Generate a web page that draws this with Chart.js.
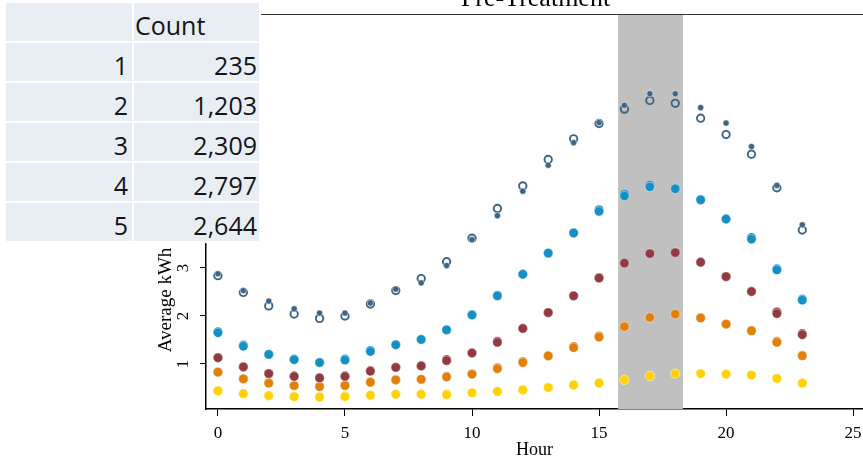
<!DOCTYPE html>
<html><head><meta charset="utf-8">
<script src="https://cdn.jsdelivr.net/npm/chart.js@4/dist/chart.umd.min.js"></script>
<style>
html,body{margin:0;padding:0;background:#fff;}
#wrap{position:relative;width:863px;height:461px;overflow:hidden;background:#fff;}
#c{position:absolute;left:0;top:0;}
#tbl{position:absolute;left:0;top:0;width:261px;height:243px;background:#fff;}
.cell{position:absolute;background:#e9edf4;font-family:'Open Sans',sans-serif;font-size:25px;color:#141414;box-sizing:border-box;height:38px;line-height:38px;padding-top:3px;white-space:nowrap;}
.c1{left:6px;width:126px;text-align:right;padding-right:4px;}
.c2{left:134px;width:125px;text-align:right;padding-right:2px;}
.hd{text-align:left;padding-left:1px;}
</style></head>
<body>
<div id="wrap">
<canvas id="c" width="863" height="461"></canvas>
<div id="tbl"></div>
</div>
<script>
// ---- data ----
const hours = [0,1,2,3,4,5,6,7,8,9,10,11,12,13,14,15,16,17,18,19,20,21,22,23];
const slateFilled  = [2.88,2.53,2.31,2.15,2.06,2.06,2.27,2.56,2.69,3.05,3.59,4.09,4.60,5.14,5.61,6.03,6.39,6.63,6.63,6.34,6.02,5.53,4.72,3.90];
const slateHollow  = [2.84,2.49,2.21,2.04,1.95,2.00,2.25,2.53,2.78,3.13,3.62,4.24,4.71,5.26,5.69,6.01,6.31,6.49,6.43,6.12,5.78,5.37,4.67,3.79];
const blueFilled   = [1.65,1.37,1.20,1.09,1.03,1.08,1.26,1.40,1.51,1.71,2.02,2.42,2.87,3.31,3.73,4.18,4.50,4.69,4.65,4.42,4.02,3.60,2.96,2.33];
const blueHollow   = [1.67,1.39,1.20,1.10,1.03,1.10,1.28,1.40,1.51,1.71,2.03,2.43,2.87,3.31,3.73,4.21,4.53,4.72,4.65,4.42,4.02,3.63,2.98,2.35];
const redFilled    = [1.13,0.94,0.80,0.74,0.71,0.74,0.85,0.93,0.96,1.07,1.23,1.45,1.74,2.07,2.42,2.79,3.10,3.30,3.32,3.12,2.82,2.51,2.05,1.61];
const redHollow    = [1.13,0.94,0.80,0.75,0.71,0.75,0.86,0.93,0.96,1.09,1.23,1.47,1.74,2.07,2.42,2.80,3.10,3.30,3.32,3.12,2.82,2.51,2.08,1.63];
const orangeFilled = [0.83,0.69,0.60,0.55,0.53,0.55,0.62,0.67,0.68,0.73,0.79,0.90,1.03,1.17,1.34,1.56,1.78,1.97,2.04,1.96,1.83,1.69,1.45,1.17];
const orangeHollow = [0.83,0.69,0.61,0.55,0.53,0.56,0.62,0.67,0.68,0.74,0.79,0.92,1.05,1.17,1.36,1.58,1.78,1.97,2.04,1.96,1.83,1.70,1.47,1.18];
const yellowFilled = [0.44,0.38,0.34,0.32,0.31,0.32,0.35,0.37,0.37,0.36,0.40,0.43,0.46,0.51,0.56,0.60,0.67,0.75,0.80,0.80,0.79,0.77,0.70,0.60];
const yellowHollow = [0.44,0.38,0.34,0.32,0.31,0.33,0.35,0.37,0.37,0.37,0.40,0.43,0.46,0.51,0.57,0.61,0.67,0.75,0.80,0.80,0.79,0.77,0.70,0.60];
const peakStart = 15.75, peakEnd = 18.3;
const xTickStep = 5, yTickStep = 1;
const tableHeader = "Count";
const tableGroups = ["1","2","3","4","5"];
const tableCounts = ["235","1,203","2,309","2,797","2,644"];
const chartTitle = "Pre-Treatment";
const xTitle = "Hour";
const yTitle = "Average kWh";

// ---- table ----
const tbl = document.getElementById('tbl');
const rowTops = [3,43,83,123,163,203];
function addCell(cls, top, text){
  const d = document.createElement('div');
  d.className = 'cell ' + cls; d.style.top = top + 'px'; d.textContent = text; tbl.appendChild(d);
}
addCell('c1', rowTops[0], '');
addCell('c2 hd', rowTops[0], tableHeader);
tableGroups.forEach((g,i)=>{ addCell('c1', rowTops[i+1], g); addCell('c2', rowTops[i+1], tableCounts[i]); });

// ---- chart ----
const colors = {slate:'#3d6485', blue:'#168fc4', red:'#923a41', orange:'#e27f08', yellow:'#ffd200'};
const pts = arr => hours.map((h,i)=>({x:h, y:arr[i]}));
function filled(arr, col, r){ return {data:pts(arr), backgroundColor:col, borderColor:'rgba(255,255,255,0.8)', borderWidth:0.6, pointRadius:r, order:1}; }
function hollow(arr, col){ return {data:pts(arr), backgroundColor:'rgba(0,0,0,0)', borderColor:col, borderWidth:1.9, pointRadius:3.7, order:5}; }

const serif = "'Liberation Serif','Times New Roman',serif";
const decor = {
  id:'decor',
  beforeDatasetsDraw(chart){
    const {ctx, chartArea:a, scales:{x}} = chart;
    const x0 = x.getPixelForValue(peakStart), x1 = x.getPixelForValue(peakEnd);
    ctx.save(); ctx.fillStyle = '#c0c0c0'; ctx.fillRect(x0, a.top, x1-x0, a.bottom-a.top); ctx.restore();
  },
  afterDraw(chart){
    const {ctx, chartArea:a, scales:{y}} = chart;
    ctx.save();
    ctx.strokeStyle = '#333'; ctx.lineWidth = 1.2;
    ctx.beginPath(); ctx.moveTo(a.left, a.top - 0.5); ctx.lineTo(a.right, a.top - 0.5); ctx.stroke();
    ctx.fillStyle = '#000';
    ctx.font = '26px ' + serif; ctx.textAlign = 'center'; ctx.textBaseline = 'alphabetic';
    ctx.fillText(chartTitle, (a.left + a.right)/2 + 1, 6);
    // y tick labels (vertical, Stata style) at the library's tick positions
    ctx.font = '17px ' + serif; ctx.textBaseline = 'middle';
    y.ticks.forEach(t => {
      const py = y.getPixelForValue(t.value);
      ctx.save(); ctx.translate(184, py); ctx.rotate(-Math.PI/2);
      ctx.fillText(String(t.value), 0, 0); ctx.restore();
    });
    ctx.translate(166, 300); ctx.rotate(-Math.PI/2);
    ctx.font = '19px ' + serif; ctx.textBaseline = 'middle';
    ctx.fillText(yTitle, 0, 0);
    ctx.restore();
  }
};

new Chart(document.getElementById('c'), {
  type:'scatter',
  data:{datasets:[
    filled(slateFilled, colors.slate, 3.1), hollow(slateHollow, colors.slate),
    filled(blueFilled, colors.blue, 4.7), hollow(blueHollow, colors.blue),
    filled(redFilled, colors.red, 4.7), hollow(redHollow, colors.red),
    filled(orangeFilled, colors.orange, 4.7), hollow(orangeHollow, colors.orange),
    filled(yellowFilled, colors.yellow, 4.7), hollow(yellowHollow, colors.yellow)
  ]},
  options:{
    responsive:false, animation:false, devicePixelRatio:1,
    layout:{autoPadding:false, padding:{top:15,left:0,right:0,bottom:0}},
    plugins:{legend:{display:false}, tooltip:{enabled:false}, title:{display:false}},
    scales:{
      x:{type:'linear', min:-0.47, max:25.39,
        ticks:{stepSize:xTickStep, includeBounds:false, color:'#000', font:{family:serif, size:17}, padding:7, maxRotation:0},
        grid:{drawOnChartArea:false, drawTicks:true, tickLength:7, color:'#000', lineWidth:1},
        border:{display:true, color:'#000', width:1.5},
        title:{display:true, text:xTitle, color:'#000', font:{family:serif, size:18}, padding:{top:0,bottom:0}},
        afterFit(s){ s.height = 52; s.paddingLeft = 0; s.paddingRight = 0; }
      },
      y:{type:'linear', min:0.0625, max:8.27,
        ticks:{stepSize:yTickStep, includeBounds:false, display:false},
        grid:{drawOnChartArea:false, drawTicks:true, tickLength:6, color:'#000', lineWidth:1},
        border:{display:true, color:'#000', width:1.5},
        afterFit(s){ s.width = 206; s.paddingTop = 0; s.paddingBottom = 0; }
      }
    }
  },
  plugins:[decor]
});
</script>
</body></html>
